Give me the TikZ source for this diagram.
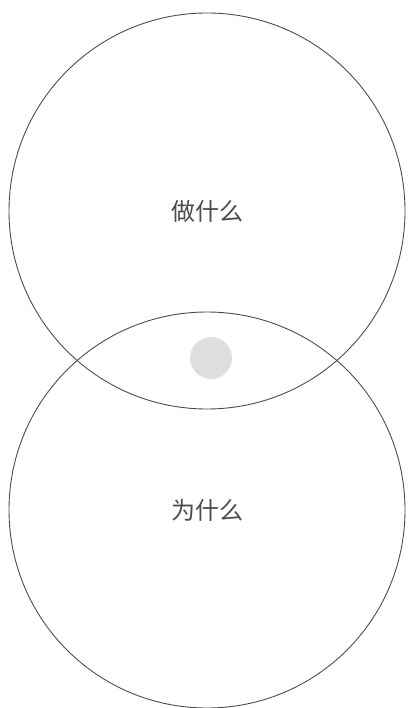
\documentclass[tikz,border=0pt]{standalone}
\usepackage{fontspec}
\newfontfamily\cjk{Noto Sans CJK SC}
\usetikzlibrary{positioning}

\begin{document}
\begin{tikzpicture}[
    x=1pt, y=-1pt,
    ring/.style={circle, draw=black!70, line width=0.9pt, minimum size=396pt, inner sep=0pt, font=\cjk\fontsize{24}{24}\selectfont, text=black!70},
    dot/.style={circle, fill=black!13, minimum size=42pt, inner sep=0pt}
]
\useasboundingbox (0,0) rectangle (411,708);
% Circles
\node[ring] (what) at (207,211) {做什么};
\node[ring] (why) at (207,510) {为什么};
% Overlap mark
\node[dot] (mid) at (211,358) {};
\end{tikzpicture}
\end{document}
